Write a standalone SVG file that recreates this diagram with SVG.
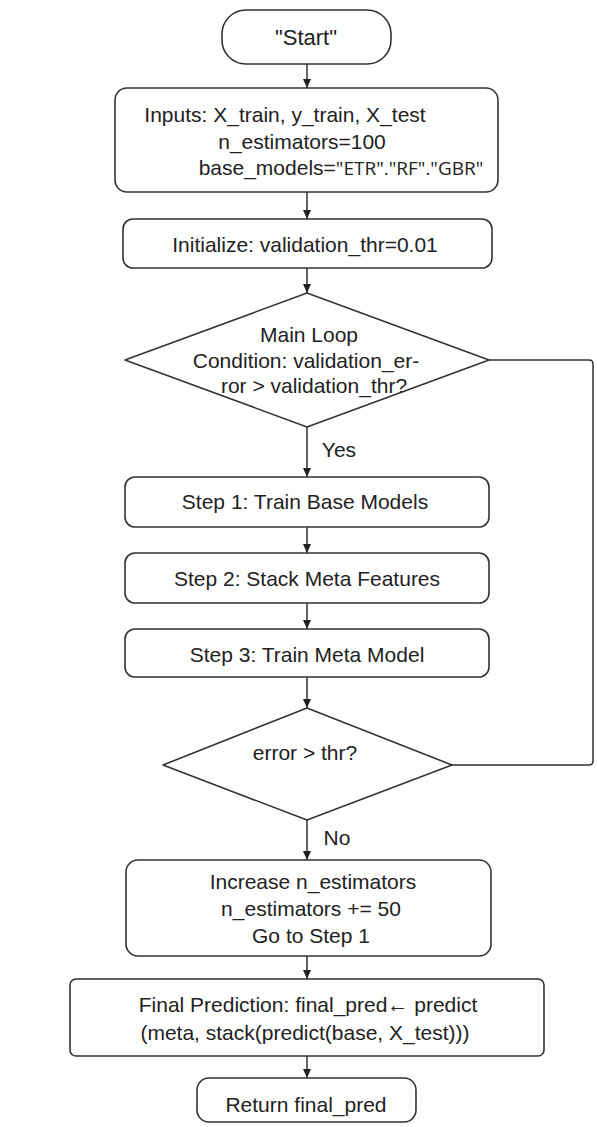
<svg xmlns="http://www.w3.org/2000/svg" width="597" height="1127" viewBox="0 0 597 1127">
  <style>
    .box { fill: #ffffff; stroke: #333333; stroke-width: 1.6; }
    .dia { fill: #ffffff; stroke: #333333; stroke-width: 1.6; stroke-linejoin: round; }
    .lbl { font-family: "Liberation Sans", Arial, sans-serif; font-size: 21px; fill: #222222; text-anchor: middle; }
    .alt { font-family: "Open Sans", "DejaVu Sans", sans-serif; font-size: 19px; }
    .edge { fill: none; stroke: #333333; stroke-width: 1.5; }
  </style>
  <defs>
    <marker id="arrow" markerWidth="9" markerHeight="8" refX="9" refY="4" orient="auto" markerUnits="userSpaceOnUse">
      <path d="M0,0 L9,4 L0,8 z" fill="#222222"/>
    </marker>
  </defs>

  <rect width="597" height="1127" fill="#ffffff"/>

  <!-- connectors -->
  <g id="connectors">
    <line class="edge" x1="307" y1="64" x2="307" y2="88" marker-end="url(#arrow)"/>
    <line class="edge" x1="307" y1="192" x2="307" y2="219" marker-end="url(#arrow)"/>
    <line class="edge" x1="307" y1="268" x2="307" y2="293" marker-end="url(#arrow)"/>
    <line class="edge" x1="307" y1="427" x2="307" y2="477" marker-end="url(#arrow)"/>
    <line class="edge" x1="307" y1="527" x2="307" y2="553" marker-end="url(#arrow)"/>
    <line class="edge" x1="307" y1="603" x2="307" y2="629" marker-end="url(#arrow)"/>
    <line class="edge" x1="307" y1="677" x2="307" y2="708" marker-end="url(#arrow)"/>
    <line class="edge" x1="307" y1="820" x2="307" y2="860" marker-end="url(#arrow)"/>
    <line class="edge" x1="307" y1="956" x2="307" y2="979" marker-end="url(#arrow)"/>
    <line class="edge" x1="307" y1="1056" x2="307" y2="1078" marker-end="url(#arrow)"/>
    <!-- loop back from the error check to the main loop -->
    <path class="edge" d="M489,360 H589 Q593,360 593,364 V761 Q593,765 589,765 H452"/>
    <text class="lbl" x="339" y="457">Yes</text>
    <text class="lbl" x="337" y="845">No</text>
  </g>

  <g id="start">
    <rect class="box" x="222" y="10" width="169" height="54" rx="24"/>
    <text class="lbl" x="306" y="45" style="font-size:22px">"Start"</text>
  </g>

  <g id="inputs">
    <rect class="box" x="115" y="88" width="383" height="104" rx="12"/>
    <text class="lbl" x="285" y="122">Inputs: X_train, y_train, X_test</text>
    <text class="lbl" x="302" y="149">n_estimators=100</text>
    <text class="lbl" x="341" y="175">base_models=<tspan class="alt">"ETR"."RF"."GBR"</tspan></text>
  </g>

  <g id="init">
    <rect class="box" x="123" y="219" width="369" height="49" rx="10"/>
    <text class="lbl" x="305" y="252">Initialize: validation_thr=0.01</text>
  </g>

  <g id="main-loop">
    <polygon class="dia" points="307,293 489,360 307,427 125,360"/>
    <text class="lbl" x="309" y="342">Main Loop</text>
    <text class="lbl" x="306" y="368">Condition: validation_er-</text>
    <text class="lbl" x="314" y="393">ror &gt; validation_thr?</text>
  </g>

  <g id="step1">
    <rect class="box" x="125" y="477" width="364" height="50" rx="10"/>
    <text class="lbl" x="305" y="509">Step 1: Train Base Models</text>
  </g>

  <g id="step2">
    <rect class="box" x="125" y="553" width="364" height="50" rx="10"/>
    <text class="lbl" x="307" y="586">Step 2: Stack Meta Features</text>
  </g>

  <g id="step3">
    <rect class="box" x="125" y="629" width="364" height="48" rx="10"/>
    <text class="lbl" x="307" y="662">Step 3: Train Meta Model</text>
  </g>

  <g id="error-check">
    <polygon class="dia" points="307,708 452,765 307,820 163,765"/>
    <text class="lbl" x="305" y="760">error &gt; thr?</text>
  </g>

  <g id="increase">
    <rect class="box" x="126" y="860" width="365" height="96" rx="12"/>
    <text class="lbl" x="313" y="889">Increase n_estimators</text>
    <text class="lbl" x="311" y="916">n_estimators += 50</text>
    <text class="lbl" x="311" y="943">Go to Step 1</text>
  </g>

  <g id="final">
    <rect class="box" x="70" y="979" width="474" height="77" rx="6"/>
    <text class="lbl" x="308" y="1012">Final Prediction: final_pred← predict</text>
    <text class="lbl" x="305" y="1040">(meta, stack(predict(base, X_test)))</text>
  </g>

  <g id="return">
    <rect class="box" x="197" y="1078" width="219" height="44" rx="12"/>
    <text class="lbl" x="306" y="1112">Return final_pred</text>
  </g>
</svg>
